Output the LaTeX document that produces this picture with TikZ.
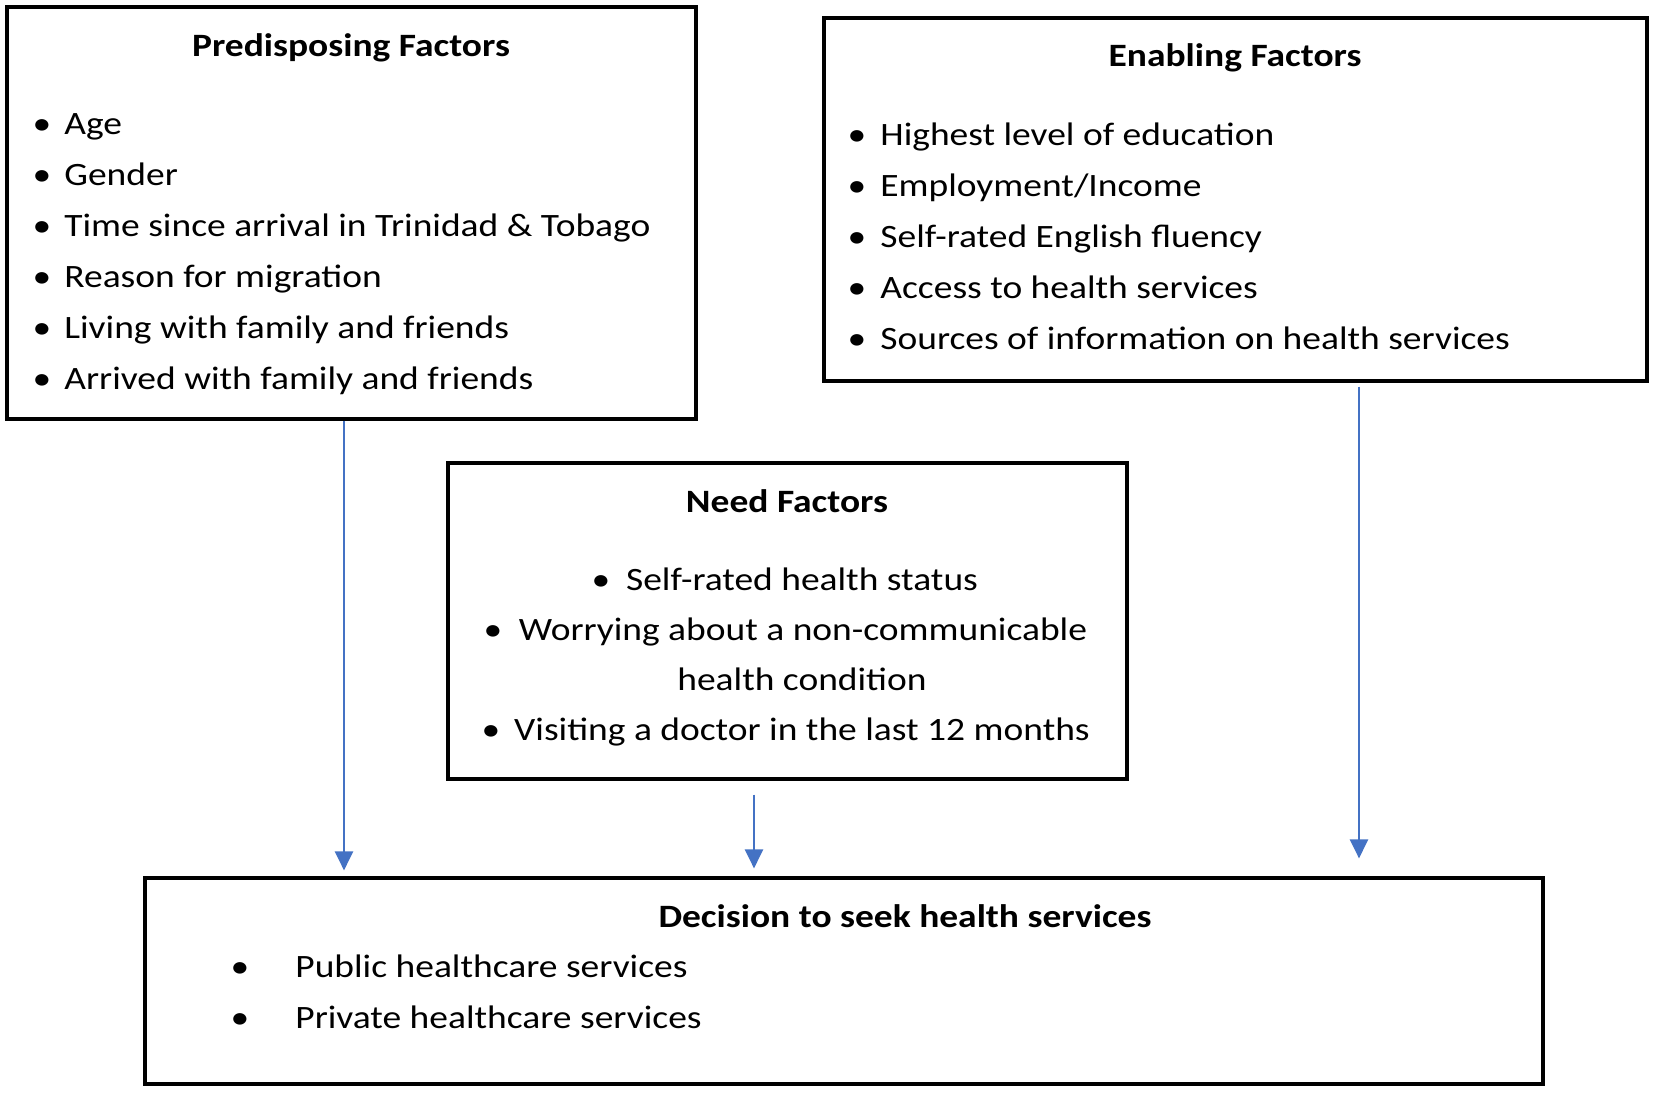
\documentclass[tikz,border=0pt]{standalone}
\usepackage{fontspec}
\setmainfont{Carlito}[FakeStretch=1.15]
\usetikzlibrary{fit,arrows.meta}
\definecolor{arrblue}{HTML}{4472C4}
\begin{document}
\begin{tikzpicture}[x=0.5pt,y=-0.5pt,
  box/.style={draw=black, line width=1.6pt, inner sep=0pt, rectangle},
  txt/.style={anchor=base west, inner sep=0pt, font=\fontsize{16.3}{19}\selectfont},
  ctxt/.style={anchor=base, inner sep=0pt, font=\fontsize{16.3}{19}\selectfont},
  ttl/.style={anchor=base, inner sep=0pt, font=\fontsize{16.3}{19}\selectfont\bfseries},
  bul/.style={anchor=base, inner sep=0pt, font=\fontsize{16.3}{19}\selectfont},
  arr/.style={draw=arrblue, line width=1.2pt, -{Triangle[length=9.5pt,width=9pt]}}
]
\fill[white] (0,0) rectangle (1654,1092);
\useasboundingbox (0,0) rectangle (1654,1092);

% boxes
\node[box, fit={(7,7) (696,419)}] (pre) {};
\node[box, fit={(824,18) (1647,381)}] (ena) {};
\node[box, fit={(448,463) (1127,779)}] (need) {};
\node[box, fit={(145,878) (1543,1084)}] (dec) {};

% predisposing
\node[ttl] (pt) at (351,56) {Predisposing Factors};
\foreach \i/\t in {0/{Age},1/{Gender},2/{Time since arrival in Trinidad \& Tobago},3/{Reason for migration},4/{Living with family and friends},5/{Arrived with family and friends}}{
  \node[bul] (pb\i) at (42,134+51*\i) {•};
  \node[txt] (p\i) at (64,134+51*\i) {\t};
}

% enabling
\node[ttl] (et) at (1235,66) {Enabling Factors};
\foreach \i/\t in {0/{Highest level of education},1/{Employment/Income},2/{Self-rated English fluency},3/{Access to health services},4/{Sources of information on health services}}{
  \node[bul] (eb\i) at (857,145+51*\i) {•};
  \node[txt] (e\i) at (880,145+51*\i) {\t};
}

% need
\node[ttl] (nt) at (787,512) {Need Factors};
\node[bul] (nb0) at (601,590) {•};
\node[ctxt] (n0) at (802,590) {Self-rated health status};
\node[bul] (nb1) at (493,640) {•};
\node[ctxt] (n1) at (803,640) {Worrying about a non-communicable};
\node[ctxt] (n2) at (802,690) {health condition};
\node[bul] (nb3) at (491,740) {•};
\node[ctxt] (n3) at (802,740) {Visiting a doctor in the last 12 months};

% decision
\node[ttl] (dt) at (905,927) {Decision to seek health services};
\node[bul] (db0) at (240,977) {•};
\node[txt] (d0) at (295,977) {Public healthcare services};
\node[bul] (db1) at (240,1028) {•};
\node[txt] (d1) at (295,1028) {Private healthcare services};

% arrows
\coordinate (x1) at (344,0);
\coordinate (x2) at (754,0);
\coordinate (x3) at (1359,0);
\draw[arr, shorten >=3pt] (pre.south -| x1) -- (dec.north -| x1);
\draw[arr, shorten <=7pt, shorten >=4pt] (need.south -| x2) -- (dec.north -| x2);
\draw[arr, shorten <=2pt, shorten >=9pt] (ena.south -| x3) -- (dec.north -| x3);
\end{tikzpicture}
\end{document}
